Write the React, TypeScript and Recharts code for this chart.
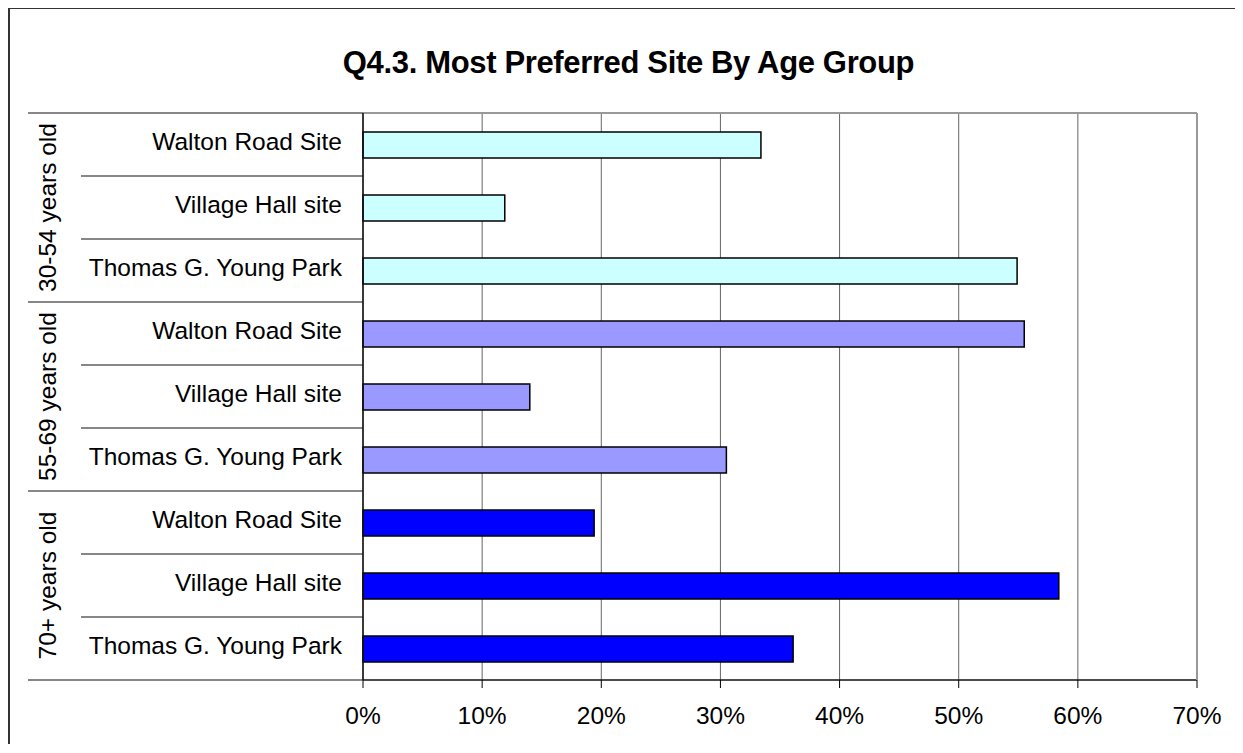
import React from 'react';
import { BarChart, Bar, XAxis, YAxis, CartesianGrid, Cell } from 'recharts';

const GROUPS = ['30-54 years old', '55-69 years old', '70+ years old'];
const SITES = ['Walton Road Site', 'Village Hall site', 'Thomas G. Young Park'];
const VALUES_30_54 = [0.334, 0.119, 0.549];
const VALUES_55_69 = [0.555, 0.14, 0.305];
const VALUES_70_PLUS = [0.194, 0.584, 0.361];
const GROUP_VALUES = [VALUES_30_54, VALUES_55_69, VALUES_70_PLUS];
const GROUP_COLORS = ['#CCFFFF', '#9999FF', '#0000FF'];
const X_TICKS = [0, 0.1, 0.2, 0.3, 0.4, 0.5, 0.6, 0.7];
const TITLE = 'Q4.3. Most Preferred Site By Age Group';

const data = GROUPS.flatMap((g, gi) =>
  SITES.map((s, si) => ({ key: `${g}|${s}`, group: g, groupIndex: gi, site: s, value: GROUP_VALUES[gi][si] }))
);

const W = 1225;
const H = 735;
const MARGIN = { top: 103, right: 37, left: 0, bottom: 0 };
const X_AXIS_H = 64;
const Y_AXIS_W = 353;
const PLOT_H = H - MARGIN.top - 1 - X_AXIS_H;
const BAND = PLOT_H / data.length;
const FONT = '"Liberation Sans", Arial, Helvetica, sans-serif';
const LABEL_FS = 24.5;

const YTick = (props: any) => {
  const { y, index, payload } = props;
  const row = data[index] || data.find((d) => d.key === payload.value);
  const i = data.indexOf(row);
  const axisX = Y_AXIS_W;
  const top = y - BAND / 2;
  const startTop = i % 3 === 0 ? 18 : 71;
  const isMiddle = i % 3 === 1;
  const isLast = i === data.length - 1;
  const gx = 46;
  return (
    <g>
      <line x1={startTop} x2={axisX} y1={top} y2={top} stroke="#111" strokeWidth={1.2} />
      {isLast && <line x1={18} x2={axisX} y1={y + BAND / 2} y2={y + BAND / 2} stroke="#111" strokeWidth={1.2} />}
      <text x={332} y={y} dy={5} textAnchor="end" fontSize={LABEL_FS} fill="#000" fontFamily={FONT}>
        {row.site}
      </text>
      {isMiddle && (
        <text
          x={gx}
          y={y}
          transform={`rotate(-90, ${gx}, ${y})`}
          textAnchor="middle"
          fontSize={LABEL_FS}
          fill="#000"
          fontFamily={FONT}
        >
          {row.group}
        </text>
      )}
    </g>
  );
};

export default function App() {
  return (
    <div
      style={{
        position: 'relative',
        width: 1227,
        height: 737,
        marginTop: -1,
        borderTop: '2px solid #333',
        borderLeft: '2px solid #333',
        boxSizing: 'border-box',
        overflow: 'hidden',
        fontFamily: FONT,
        background: '#fff',
      }}
    >
      <div
        style={{
          position: 'absolute',
          left: 618.5 - 400,
          width: 800,
          top: 38,
          textAlign: 'center',
          fontSize: 31,
          lineHeight: '31px',
          fontWeight: 'bold',
          letterSpacing: -0.35,
          color: '#000',
          zIndex: 2,
        }}
      >
        {TITLE}
      </div>
      <BarChart width={W} height={H} data={data} layout="vertical" margin={MARGIN} barSize={26}>
        <CartesianGrid horizontal={false} stroke="#666" strokeWidth={1} />
        <XAxis
          type="number"
          dataKey="value"
          domain={[0, 0.7]}
          ticks={X_TICKS}
          interval={0}
          height={X_AXIS_H}
          tickSize={8}
          tickMargin={19}
          tickFormatter={(v: number) => `${Math.round(v * 100)}%`}
          tick={{ fill: '#000', fontSize: LABEL_FS, fontFamily: FONT }}
          tickLine={{ stroke: '#000' }}
          axisLine={{ stroke: '#111', strokeWidth: 1.5 }}
        />
        <XAxis
          xAxisId="top"
          orientation="top"
          type="number"
          domain={[0, 0.7]}
          height={1}
          tick={false}
          tickLine={false}
          axisLine={{ stroke: '#999', strokeWidth: 2 }}
        />
        <YAxis
          type="category"
          dataKey="key"
          width={Y_AXIS_W}
          interval={0}
          tickLine={false}
          tick={YTick}
          axisLine={{ stroke: '#111', strokeWidth: 1.5 }}
        />
        <YAxis
          yAxisId="r"
          orientation="right"
          type="category"
          dataKey="key"
          width={1}
          tick={false}
          tickLine={false}
          axisLine={{ stroke: '#999', strokeWidth: 2 }}
        />
        <Bar dataKey="value" isAnimationActive={false} stroke="#000" strokeWidth={1.5}>
          {data.map((d) => (
            <Cell key={d.key} fill={GROUP_COLORS[d.groupIndex]} />
          ))}
        </Bar>
      </BarChart>
    </div>
  );
}
